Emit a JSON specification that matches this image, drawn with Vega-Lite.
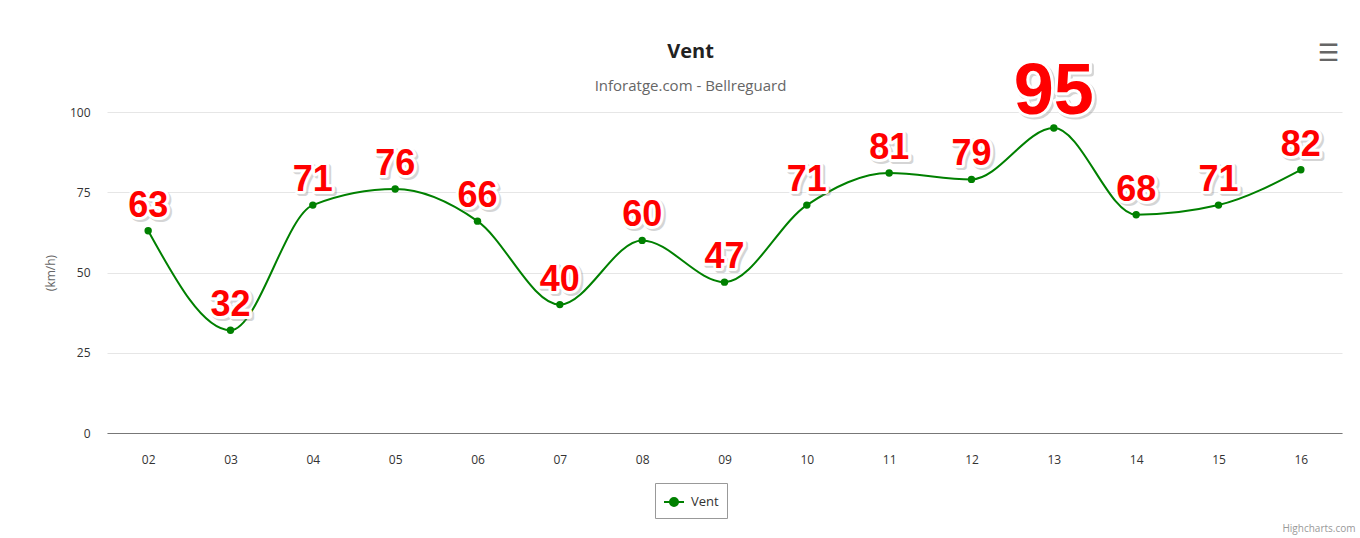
{
  "$schema": "https://vega.github.io/schema/vega-lite/v6.json",
  "width": 1235,
  "height": 321,
  "autosize": {"type": "none"},
  "padding": {"left": 107, "top": 112, "right": 18, "bottom": 105},
  "background": "#ffffff",
  "title": {
    "text": "Vent",
    "subtitle": "Inforatge.com - Bellreguard",
    "anchor": "middle",
    "frame": "group",
    "dx": -34,
    "offset": -53,
    "font": "Open Sans",
    "fontSize": 20,
    "fontWeight": "bold",
    "color": "#222222",
    "subtitleFont": "Open Sans",
    "subtitleFontSize": 15,
    "subtitleColor": "#666666",
    "subtitlePadding": 17
  },
  "data": {
    "values": [
      {"day": "02", "v": 63},
      {"day": "03", "v": 32},
      {"day": "04", "v": 71},
      {"day": "05", "v": 76},
      {"day": "06", "v": 66},
      {"day": "07", "v": 40},
      {"day": "08", "v": 60},
      {"day": "09", "v": 47},
      {"day": "10", "v": 71},
      {"day": "11", "v": 81},
      {"day": "12", "v": 79},
      {"day": "13", "v": 95},
      {"day": "14", "v": 68},
      {"day": "15", "v": 71},
      {"day": "16", "v": 82}
    ]
  },
  "encoding": {
    "y": {
      "field": "v",
      "type": "quantitative",
      "scale": {"domain": [0, 100], "nice": false},
      "axis": {
        "values": [0, 25, 50, 75, 100],
        "labelFont": "Open Sans",
        "labelFontSize": 12,
        "labelColor": "#333333",
        "labelPadding": 17,
        "ticks": false,
        "domain": false,
        "gridColor": "#e6e6e6",
        "title": "(km/h)",
        "titleFont": "Open Sans",
        "titleFontSize": 12,
        "titleFontWeight": "normal",
        "titleColor": "#666666",
        "titlePadding": 12
      }
    }
  },
  "layer": [
    {
      "mark": {"type": "line", "interpolate": "monotone", "strokeWidth": 2},
      "encoding": {
        "x": {
          "field": "day",
          "type": "ordinal",
          "sort": null,
          "axis": {
            "labelAngle": 0,
            "labelFont": "Open Sans",
            "labelFontSize": 12,
            "labelColor": "#333333",
            "labelPadding": 21,
            "ticks": false,
            "domainColor": "#777777",
            "domainWidth": 1,
            "grid": false,
            "title": "Highcharts.com",
            "titleFont": "Open Sans",
            "titleFontSize": 10,
            "titleFontWeight": "normal",
            "titleColor": "#999999",
            "titleAlign": "right",
            "titleBaseline": "alphabetic",
            "titleX": 1248,
            "titleY": 98
          }
        },
        "color": {
          "datum": "Vent",
          "type": "nominal",
          "scale": {"range": ["#008000"]},
          "legend": {
            "title": null,
            "orient": "none",
            "legendX": 548,
            "legendY": 371,
            "strokeColor": "#999999",
            "padding": 8,
            "cornerRadius": 0,
            "symbolType": "M-1,0L1,0M0.4,0A0.4,0.4 0 1,1 -0.4,0A0.4,0.4 0 1,1 0.4,0Z",
            "symbolSize": 400,
            "symbolStrokeWidth": 2,
            "symbolFillColor": "#008000",
            "symbolStrokeColor": "#008000",
            "labelFont": "Open Sans",
            "labelFontSize": 13,
            "labelColor": "#333333",
            "labelOffset": 6
          }
        }
      }
    },
    {
      "mark": {"type": "point", "filled": true, "size": 55, "opacity": 1},
      "encoding": {
        "x": {"field": "day", "type": "ordinal", "sort": null, "axis": null},
        "color": {"datum": "Vent", "type": "nominal"}
      }
    },
    {
      "mark": {
        "type": "text",
        "font": "Liberation Sans",
        "fontWeight": "bold",
        "baseline": "alphabetic",
        "align": "center",
        "dx": 2,
        "dy": -12,
        "fill": "#777777",
        "stroke": "#777777",
        "strokeWidth": 6,
        "strokeJoin": "round",
        "opacity": 0.3
      },
      "encoding": {
        "x": {"field": "day", "type": "ordinal", "sort": null, "axis": null},
        "text": {"field": "v", "type": "quantitative"},
        "size": {"condition": {"test": "datum.v >= 95", "value": 72}, "value": 36}
      }
    },
    {
      "mark": {
        "type": "text",
        "font": "Liberation Sans",
        "fontWeight": "bold",
        "baseline": "alphabetic",
        "align": "center",
        "dy": -14,
        "fill": "#ffffff",
        "stroke": "#ffffff",
        "strokeWidth": 6,
        "strokeJoin": "round"
      },
      "encoding": {
        "x": {"field": "day", "type": "ordinal", "sort": null, "axis": null},
        "text": {"field": "v", "type": "quantitative"},
        "size": {"condition": {"test": "datum.v >= 95", "value": 72}, "value": 36}
      }
    },
    {
      "mark": {
        "type": "text",
        "font": "Liberation Sans",
        "fontWeight": "bold",
        "baseline": "alphabetic",
        "align": "center",
        "dy": -14,
        "fill": "#ff0000"
      },
      "encoding": {
        "x": {
          "field": "day",
          "type": "ordinal",
          "sort": null,
          "axis": {
            "orient": "top",
            "labels": false,
            "ticks": false,
            "domain": false,
            "grid": false,
            "title": "☰",
            "titleFont": "DejaVu Sans",
            "titleFontSize": 24,
            "titleFontWeight": "bold",
            "titleColor": "#666666",
            "titleAlign": "center",
            "titleBaseline": "middle",
            "titleX": 1221,
            "titleY": -59
          }
        },
        "text": {"field": "v", "type": "quantitative"},
        "size": {"condition": {"test": "datum.v >= 95", "value": 72}, "value": 36}
      }
    }
  ],
  "resolve": {"axis": {"x": "independent"}},
  "config": {
    "view": {"stroke": null}
  }
}
